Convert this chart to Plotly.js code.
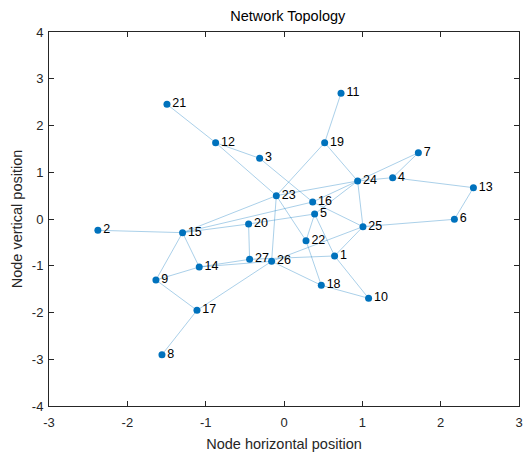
<!DOCTYPE html>
<html>
<head>
<meta charset="utf-8">
<script src="https://cdn.plot.ly/plotly-3.0.1.min.js"></script>
<style>html,body{margin:0;padding:0;background:#fff;}#chart{width:530px;height:452px;}</style>
</head>
<body>
<div id="chart"></div>
<script>
// Node ids 1..27 and their positions
const nodeIds = [1,2,3,4,5,6,7,8,9,10,11,12,13,14,15,16,17,18,19,20,21,22,23,24,25,26,27];
const nodeX = [0.646,-2.376,-0.311,1.387,0.391,2.175,1.715,-1.558,-1.635,1.080,0.728,-0.873,2.418,-1.082,-1.295,0.366,-1.111,0.476,0.519,-0.452,-1.494,0.281,-0.098,0.940,1.008,-0.158,-0.439];
const nodeY = [-0.791,-0.242,1.298,0.884,0.107,-0.007,1.418,-2.903,-1.305,-1.696,2.689,1.632,0.670,-1.027,-0.292,0.364,-1.953,-1.418,1.632,-0.107,2.453,-0.464,0.499,0.813,-0.164,-0.905,-0.862];
// Edge list (source, target)
const edgeFrom = [21,12,12,3,23,23,23,23,23,19,19,24,24,24,24,24,7,4,13,6,16,15,20,15,15,15,15,20,14,14,14,9,17,17,27,26,26,5,5,22,18,1,1];
const edgeTo   = [12,3,23,16,19,24,15,26,22,11,24,7,4,16,5,25,4,13,6,25,25,16,5,20,2,9,14,27,9,27,26,17,8,26,1,25,18,22,1,18,10,10,25];
const xTicks = [-3,-2,-1,0,1,2,3];
const yTicks = [-4,-3,-2,-1,0,1,2,3,4];

const ex = [], ey = [];
for (let i = 0; i < edgeFrom.length; i++) {
  const a = edgeFrom[i]-1, b = edgeTo[i]-1;
  ex.push(nodeX[a], nodeX[b], null);
  ey.push(nodeY[a], nodeY[b], null);
}

const font = 'Liberation Sans, Arial, sans-serif';
const edges = {
  x: ex, y: ey, mode: 'lines', type: 'scatter', hoverinfo: 'skip',
  line: {color: 'rgba(0,114,189,0.42)', width: 0.8}
};
const nodes = {
  x: nodeX, y: nodeY, mode: 'markers+text', type: 'scatter',
  text: nodeIds.map(String), textposition: 'middle right',
  textfont: {family: font, size: 12.5, color: '#000'},
  marker: {color: '#0072BD', size: 7}
};

const axisCommon = {
  showgrid: false, zeroline: false, showline: true, mirror: 'ticks',
  linecolor: '#262626', linewidth: 1, ticks: 'inside', ticklen: 5, tickcolor: '#262626',
  tickfont: {family: font, size: 13, color: '#262626'}
};

const layout = {
  width: 530, height: 452,
  margin: {l: 49, r: 11, t: 32, b: 46},
  paper_bgcolor: '#fff', plot_bgcolor: '#fff',
  showlegend: false,
  title: {text: 'Network Topology', x: 0.543, xanchor: 'center', y: 0.975, yanchor: 'top',
          font: {family: font, size: 14.5, color: '#000'}},
  xaxis: Object.assign({}, axisCommon, {range: [-3, 3], tickvals: xTicks, ticktext: xTicks.map(String),
    ticklabelstandoff: 4,
    title: {text: 'Node horizontal position', standoff: 10,
            font: {family: font, size: 14.5, color: '#262626'}}}),
  yaxis: Object.assign({}, axisCommon, {range: [-4, 4], tickvals: yTicks, ticktext: yTicks.map(String),
    ticklabelstandoff: 2,
    title: {text: 'Node vertical position', standoff: 5,
            font: {family: font, size: 14.5, color: '#262626'}}})
};

Plotly.newPlot('chart', [edges, nodes], layout, {staticPlot: true, displayModeBar: false});
</script>
</body>
</html>
